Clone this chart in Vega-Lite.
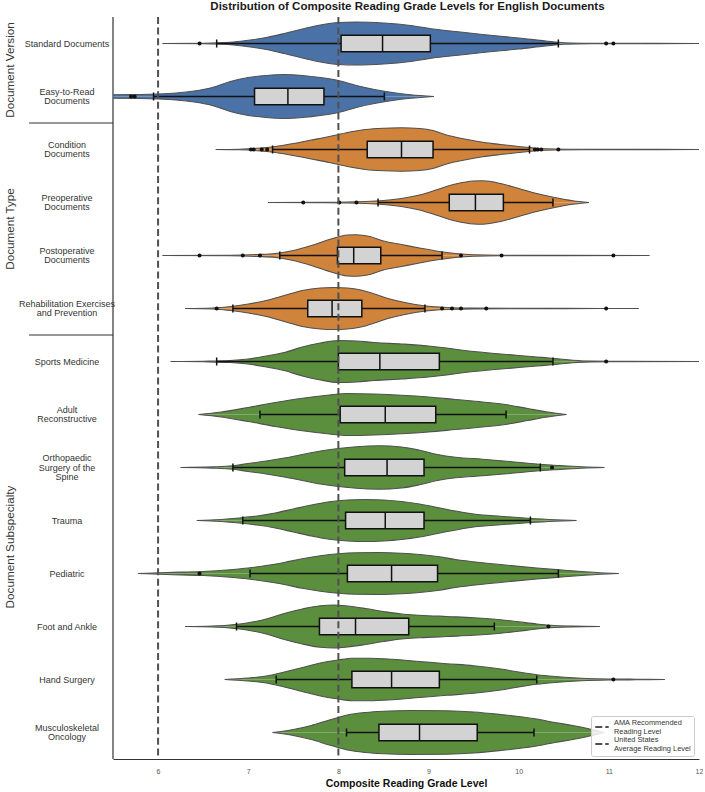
{
"$schema": "https://vega.github.io/schema/vega-lite/v6.json",
"padding": {"left": 0, "top": 0, "right": 0, "bottom": 0},
"bounds": "flush",
"title": {"text": "Distribution of Composite Reading Grade Levels for English Documents", "font": "Liberation Sans", "fontSize": 11.5, "fontWeight": "bold", "color": "#1a1a1a", "anchor": "middle", "dx": 56, "offset": 4},
"datasets": {
"labels": [
{"cat":"Standard Documents","label":"Standard Documents"},
{"cat":"Easy-to-Read Documents","label":"Easy-to-Read\nDocuments"},
{"cat":"Condition Documents","label":"Condition\nDocuments"},
{"cat":"Preoperative Documents","label":"Preoperative\nDocuments"},
{"cat":"Postoperative Documents","label":"Postoperative\nDocuments"},
{"cat":"Rehabilitation Exercises and Prevention","label":"Rehabilitation Exercises\nand Prevention"},
{"cat":"Sports Medicine","label":"Sports Medicine"},
{"cat":"Adult Reconstructive","label":"Adult\nReconstructive"},
{"cat":"Orthopaedic Surgery of the Spine","label":"Orthopaedic\nSurgery of the\nSpine"},
{"cat":"Trauma","label":"Trauma"},
{"cat":"Pediatric","label":"Pediatric"},
{"cat":"Foot and Ankle","label":"Foot and Ankle"},
{"cat":"Hand Surgery","label":"Hand Surgery"},
{"cat":"Musculoskeletal Oncology","label":"Musculoskeletal\nOncology"}
],
"groups": [
{"grp":"Document Version","at":"Standard Documents"},
{"grp":"Document Type","at":"Preoperative Documents"},
{"grp":"Document Subspecialty","at":"Trauma"}
],
"seps": [
{"at":"Easy-to-Read Documents"},
{"at":"Rehabilitation Exercises and Prevention"}
],
"spine": [{"side":"left"}],
"all": [
{"cat":"Standard Documents","kind":"b","q1":8.03,"med":8.49,"q3":9.02,"lo":6.65,"hi":10.44},
{"cat":"Standard Documents","kind":"o","x":6.46},
{"cat":"Standard Documents","kind":"o","x":10.97},
{"cat":"Standard Documents","kind":"o","x":11.05},
{"cat":"Standard Documents","grp":"Document Version","kind":"v","x":6.05,"d":0},
{"cat":"Standard Documents","grp":"Document Version","kind":"v","x":6.5,"d":0.3},
{"cat":"Standard Documents","grp":"Document Version","kind":"v","x":6.8,"d":1.2},
{"cat":"Standard Documents","grp":"Document Version","kind":"v","x":7.0,"d":3.2},
{"cat":"Standard Documents","grp":"Document Version","kind":"v","x":7.2,"d":6},
{"cat":"Standard Documents","grp":"Document Version","kind":"v","x":7.4,"d":10},
{"cat":"Standard Documents","grp":"Document Version","kind":"v","x":7.6,"d":14.5},
{"cat":"Standard Documents","grp":"Document Version","kind":"v","x":7.8,"d":18.5},
{"cat":"Standard Documents","grp":"Document Version","kind":"v","x":8.0,"d":21},
{"cat":"Standard Documents","grp":"Document Version","kind":"v","x":8.2,"d":21.5},
{"cat":"Standard Documents","grp":"Document Version","kind":"v","x":8.5,"d":20.5},
{"cat":"Standard Documents","grp":"Document Version","kind":"v","x":8.8,"d":18},
{"cat":"Standard Documents","grp":"Document Version","kind":"v","x":9.05,"d":14.5},
{"cat":"Standard Documents","grp":"Document Version","kind":"v","x":9.3,"d":12},
{"cat":"Standard Documents","grp":"Document Version","kind":"v","x":9.6,"d":9},
{"cat":"Standard Documents","grp":"Document Version","kind":"v","x":10.0,"d":5.5},
{"cat":"Standard Documents","grp":"Document Version","kind":"v","x":10.3,"d":2.5},
{"cat":"Standard Documents","grp":"Document Version","kind":"v","x":10.5,"d":0.8},
{"cat":"Standard Documents","grp":"Document Version","kind":"v","x":10.8,"d":0.3},
{"cat":"Standard Documents","grp":"Document Version","kind":"v","x":11.5,"d":0.15},
{"cat":"Standard Documents","grp":"Document Version","kind":"v","x":12.1,"d":0},

{"cat":"Easy-to-Read Documents","kind":"b","q1":7.07,"med":7.44,"q3":7.84,"lo":5.95,"hi":8.51},
{"cat":"Easy-to-Read Documents","kind":"o","x":5.70},
{"cat":"Easy-to-Read Documents","kind":"o","x":5.74},
{"cat":"Easy-to-Read Documents","grp":"Document Version","kind":"v","x":5.2,"d":1.5},
{"cat":"Easy-to-Read Documents","grp":"Document Version","kind":"v","x":5.5,"d":1.8},
{"cat":"Easy-to-Read Documents","grp":"Document Version","kind":"v","x":5.8,"d":2},
{"cat":"Easy-to-Read Documents","grp":"Document Version","kind":"v","x":6.0,"d":2.5},
{"cat":"Easy-to-Read Documents","grp":"Document Version","kind":"v","x":6.2,"d":3.5},
{"cat":"Easy-to-Read Documents","grp":"Document Version","kind":"v","x":6.4,"d":5.5},
{"cat":"Easy-to-Read Documents","grp":"Document Version","kind":"v","x":6.6,"d":9},
{"cat":"Easy-to-Read Documents","grp":"Document Version","kind":"v","x":6.8,"d":15},
{"cat":"Easy-to-Read Documents","grp":"Document Version","kind":"v","x":7.0,"d":19},
{"cat":"Easy-to-Read Documents","grp":"Document Version","kind":"v","x":7.2,"d":21},
{"cat":"Easy-to-Read Documents","grp":"Document Version","kind":"v","x":7.4,"d":22},
{"cat":"Easy-to-Read Documents","grp":"Document Version","kind":"v","x":7.6,"d":21},
{"cat":"Easy-to-Read Documents","grp":"Document Version","kind":"v","x":7.8,"d":19},
{"cat":"Easy-to-Read Documents","grp":"Document Version","kind":"v","x":8.0,"d":16},
{"cat":"Easy-to-Read Documents","grp":"Document Version","kind":"v","x":8.2,"d":11},
{"cat":"Easy-to-Read Documents","grp":"Document Version","kind":"v","x":8.4,"d":7},
{"cat":"Easy-to-Read Documents","grp":"Document Version","kind":"v","x":8.6,"d":4},
{"cat":"Easy-to-Read Documents","grp":"Document Version","kind":"v","x":8.8,"d":1.8},
{"cat":"Easy-to-Read Documents","grp":"Document Version","kind":"v","x":9.06,"d":0},

{"cat":"Condition Documents","kind":"b","q1":8.32,"med":8.70,"q3":9.05,"lo":7.27,"hi":10.12},
{"cat":"Condition Documents","kind":"o","x":7.03},
{"cat":"Condition Documents","kind":"o","x":7.06},
{"cat":"Condition Documents","kind":"o","x":7.15},
{"cat":"Condition Documents","kind":"o","x":7.21},
{"cat":"Condition Documents","kind":"o","x":10.18},
{"cat":"Condition Documents","kind":"o","x":10.21},
{"cat":"Condition Documents","kind":"o","x":10.25},
{"cat":"Condition Documents","kind":"o","x":10.44},
{"cat":"Condition Documents","grp":"Document Type","kind":"v","x":6.64,"d":0},
{"cat":"Condition Documents","grp":"Document Type","kind":"v","x":6.9,"d":0.3},
{"cat":"Condition Documents","grp":"Document Type","kind":"v","x":7.1,"d":1.2},
{"cat":"Condition Documents","grp":"Document Type","kind":"v","x":7.3,"d":3},
{"cat":"Condition Documents","grp":"Document Type","kind":"v","x":7.5,"d":6},
{"cat":"Condition Documents","grp":"Document Type","kind":"v","x":7.7,"d":9.5},
{"cat":"Condition Documents","grp":"Document Type","kind":"v","x":7.9,"d":13},
{"cat":"Condition Documents","grp":"Document Type","kind":"v","x":8.1,"d":17},
{"cat":"Condition Documents","grp":"Document Type","kind":"v","x":8.3,"d":20},
{"cat":"Condition Documents","grp":"Document Type","kind":"v","x":8.5,"d":21.3},
{"cat":"Condition Documents","grp":"Document Type","kind":"v","x":8.7,"d":21.7},
{"cat":"Condition Documents","grp":"Document Type","kind":"v","x":8.9,"d":21},
{"cat":"Condition Documents","grp":"Document Type","kind":"v","x":9.05,"d":19},
{"cat":"Condition Documents","grp":"Document Type","kind":"v","x":9.2,"d":14.5},
{"cat":"Condition Documents","grp":"Document Type","kind":"v","x":9.4,"d":10.5},
{"cat":"Condition Documents","grp":"Document Type","kind":"v","x":9.6,"d":7.3},
{"cat":"Condition Documents","grp":"Document Type","kind":"v","x":9.8,"d":5},
{"cat":"Condition Documents","grp":"Document Type","kind":"v","x":10.0,"d":3},
{"cat":"Condition Documents","grp":"Document Type","kind":"v","x":10.2,"d":1.3},
{"cat":"Condition Documents","grp":"Document Type","kind":"v","x":10.4,"d":0.5},
{"cat":"Condition Documents","grp":"Document Type","kind":"v","x":10.7,"d":0.2},
{"cat":"Condition Documents","grp":"Document Type","kind":"v","x":11.5,"d":0.15},
{"cat":"Condition Documents","grp":"Document Type","kind":"v","x":12.1,"d":0},

{"cat":"Preoperative Documents","kind":"b","q1":9.23,"med":9.52,"q3":9.83,"lo":8.44,"hi":10.38},
{"cat":"Preoperative Documents","kind":"o","x":7.61},
{"cat":"Preoperative Documents","kind":"o","x":8.01},
{"cat":"Preoperative Documents","kind":"o","x":8.20},
{"cat":"Preoperative Documents","grp":"Document Type","kind":"v","x":7.22,"d":0},
{"cat":"Preoperative Documents","grp":"Document Type","kind":"v","x":7.8,"d":0.2},
{"cat":"Preoperative Documents","grp":"Document Type","kind":"v","x":8.1,"d":0.5},
{"cat":"Preoperative Documents","grp":"Document Type","kind":"v","x":8.3,"d":1},
{"cat":"Preoperative Documents","grp":"Document Type","kind":"v","x":8.5,"d":2},
{"cat":"Preoperative Documents","grp":"Document Type","kind":"v","x":8.7,"d":4},
{"cat":"Preoperative Documents","grp":"Document Type","kind":"v","x":8.9,"d":7.5},
{"cat":"Preoperative Documents","grp":"Document Type","kind":"v","x":9.1,"d":13},
{"cat":"Preoperative Documents","grp":"Document Type","kind":"v","x":9.3,"d":18.5},
{"cat":"Preoperative Documents","grp":"Document Type","kind":"v","x":9.5,"d":21.5},
{"cat":"Preoperative Documents","grp":"Document Type","kind":"v","x":9.6,"d":21.7},
{"cat":"Preoperative Documents","grp":"Document Type","kind":"v","x":9.8,"d":19},
{"cat":"Preoperative Documents","grp":"Document Type","kind":"v","x":10.0,"d":14},
{"cat":"Preoperative Documents","grp":"Document Type","kind":"v","x":10.2,"d":9},
{"cat":"Preoperative Documents","grp":"Document Type","kind":"v","x":10.4,"d":5},
{"cat":"Preoperative Documents","grp":"Document Type","kind":"v","x":10.6,"d":1.8},
{"cat":"Preoperative Documents","grp":"Document Type","kind":"v","x":10.78,"d":0},

{"cat":"Postoperative Documents","kind":"b","q1":7.99,"med":8.17,"q3":8.47,"lo":7.35,"hi":9.15},
{"cat":"Postoperative Documents","kind":"o","x":6.46},
{"cat":"Postoperative Documents","kind":"o","x":6.94},
{"cat":"Postoperative Documents","kind":"o","x":7.13},
{"cat":"Postoperative Documents","kind":"o","x":9.36},
{"cat":"Postoperative Documents","kind":"o","x":9.81},
{"cat":"Postoperative Documents","kind":"o","x":11.05},
{"cat":"Postoperative Documents","grp":"Document Type","kind":"v","x":6.05,"d":0},
{"cat":"Postoperative Documents","grp":"Document Type","kind":"v","x":6.8,"d":0.3},
{"cat":"Postoperative Documents","grp":"Document Type","kind":"v","x":7.1,"d":1},
{"cat":"Postoperative Documents","grp":"Document Type","kind":"v","x":7.3,"d":2},
{"cat":"Postoperative Documents","grp":"Document Type","kind":"v","x":7.5,"d":5},
{"cat":"Postoperative Documents","grp":"Document Type","kind":"v","x":7.7,"d":10},
{"cat":"Postoperative Documents","grp":"Document Type","kind":"v","x":7.9,"d":16},
{"cat":"Postoperative Documents","grp":"Document Type","kind":"v","x":8.1,"d":20.5},
{"cat":"Postoperative Documents","grp":"Document Type","kind":"v","x":8.2,"d":20.8},
{"cat":"Postoperative Documents","grp":"Document Type","kind":"v","x":8.35,"d":19},
{"cat":"Postoperative Documents","grp":"Document Type","kind":"v","x":8.5,"d":14.5},
{"cat":"Postoperative Documents","grp":"Document Type","kind":"v","x":8.7,"d":11},
{"cat":"Postoperative Documents","grp":"Document Type","kind":"v","x":8.9,"d":7.5},
{"cat":"Postoperative Documents","grp":"Document Type","kind":"v","x":9.1,"d":4.3},
{"cat":"Postoperative Documents","grp":"Document Type","kind":"v","x":9.3,"d":2},
{"cat":"Postoperative Documents","grp":"Document Type","kind":"v","x":9.5,"d":0.8},
{"cat":"Postoperative Documents","grp":"Document Type","kind":"v","x":9.8,"d":0.3},
{"cat":"Postoperative Documents","grp":"Document Type","kind":"v","x":11.45,"d":0},

{"cat":"Rehabilitation Exercises and Prevention","kind":"b","q1":7.66,"med":7.93,"q3":8.26,"lo":6.83,"hi":8.96},
{"cat":"Rehabilitation Exercises and Prevention","kind":"o","x":6.65},
{"cat":"Rehabilitation Exercises and Prevention","kind":"o","x":9.15},
{"cat":"Rehabilitation Exercises and Prevention","kind":"o","x":9.26},
{"cat":"Rehabilitation Exercises and Prevention","kind":"o","x":9.36},
{"cat":"Rehabilitation Exercises and Prevention","kind":"o","x":9.64},
{"cat":"Rehabilitation Exercises and Prevention","kind":"o","x":10.97},
{"cat":"Rehabilitation Exercises and Prevention","grp":"Document Type","kind":"v","x":6.3,"d":0},
{"cat":"Rehabilitation Exercises and Prevention","grp":"Document Type","kind":"v","x":6.6,"d":0.5},
{"cat":"Rehabilitation Exercises and Prevention","grp":"Document Type","kind":"v","x":6.83,"d":2.3},
{"cat":"Rehabilitation Exercises and Prevention","grp":"Document Type","kind":"v","x":7.0,"d":4.5},
{"cat":"Rehabilitation Exercises and Prevention","grp":"Document Type","kind":"v","x":7.2,"d":8},
{"cat":"Rehabilitation Exercises and Prevention","grp":"Document Type","kind":"v","x":7.4,"d":13},
{"cat":"Rehabilitation Exercises and Prevention","grp":"Document Type","kind":"v","x":7.6,"d":18},
{"cat":"Rehabilitation Exercises and Prevention","grp":"Document Type","kind":"v","x":7.8,"d":20.5},
{"cat":"Rehabilitation Exercises and Prevention","grp":"Document Type","kind":"v","x":7.95,"d":21},
{"cat":"Rehabilitation Exercises and Prevention","grp":"Document Type","kind":"v","x":8.1,"d":20.5},
{"cat":"Rehabilitation Exercises and Prevention","grp":"Document Type","kind":"v","x":8.25,"d":18.5},
{"cat":"Rehabilitation Exercises and Prevention","grp":"Document Type","kind":"v","x":8.4,"d":14.5},
{"cat":"Rehabilitation Exercises and Prevention","grp":"Document Type","kind":"v","x":8.55,"d":10},
{"cat":"Rehabilitation Exercises and Prevention","grp":"Document Type","kind":"v","x":8.75,"d":5.7},
{"cat":"Rehabilitation Exercises and Prevention","grp":"Document Type","kind":"v","x":8.95,"d":2.7},
{"cat":"Rehabilitation Exercises and Prevention","grp":"Document Type","kind":"v","x":9.2,"d":1},
{"cat":"Rehabilitation Exercises and Prevention","grp":"Document Type","kind":"v","x":9.5,"d":0.4},
{"cat":"Rehabilitation Exercises and Prevention","grp":"Document Type","kind":"v","x":10.5,"d":0.15},
{"cat":"Rehabilitation Exercises and Prevention","grp":"Document Type","kind":"v","x":11.33,"d":0},

{"cat":"Sports Medicine","kind":"b","q1":8.00,"med":8.46,"q3":9.12,"lo":6.65,"hi":10.38},
{"cat":"Sports Medicine","kind":"o","x":10.97},
{"cat":"Sports Medicine","grp":"Document Subspecialty","kind":"v","x":6.14,"d":0},
{"cat":"Sports Medicine","grp":"Document Subspecialty","kind":"v","x":6.5,"d":0.3},
{"cat":"Sports Medicine","grp":"Document Subspecialty","kind":"v","x":6.8,"d":1},
{"cat":"Sports Medicine","grp":"Document Subspecialty","kind":"v","x":7.0,"d":2.5},
{"cat":"Sports Medicine","grp":"Document Subspecialty","kind":"v","x":7.2,"d":5.5},
{"cat":"Sports Medicine","grp":"Document Subspecialty","kind":"v","x":7.4,"d":9},
{"cat":"Sports Medicine","grp":"Document Subspecialty","kind":"v","x":7.6,"d":14.5},
{"cat":"Sports Medicine","grp":"Document Subspecialty","kind":"v","x":7.8,"d":18.5},
{"cat":"Sports Medicine","grp":"Document Subspecialty","kind":"v","x":8.0,"d":21},
{"cat":"Sports Medicine","grp":"Document Subspecialty","kind":"v","x":8.2,"d":20.5},
{"cat":"Sports Medicine","grp":"Document Subspecialty","kind":"v","x":8.4,"d":19},
{"cat":"Sports Medicine","grp":"Document Subspecialty","kind":"v","x":8.7,"d":17.5},
{"cat":"Sports Medicine","grp":"Document Subspecialty","kind":"v","x":9.0,"d":15.5},
{"cat":"Sports Medicine","grp":"Document Subspecialty","kind":"v","x":9.2,"d":13.5},
{"cat":"Sports Medicine","grp":"Document Subspecialty","kind":"v","x":9.4,"d":11},
{"cat":"Sports Medicine","grp":"Document Subspecialty","kind":"v","x":9.7,"d":8.3},
{"cat":"Sports Medicine","grp":"Document Subspecialty","kind":"v","x":10.0,"d":6},
{"cat":"Sports Medicine","grp":"Document Subspecialty","kind":"v","x":10.2,"d":4.5},
{"cat":"Sports Medicine","grp":"Document Subspecialty","kind":"v","x":10.4,"d":3},
{"cat":"Sports Medicine","grp":"Document Subspecialty","kind":"v","x":10.6,"d":1.3},
{"cat":"Sports Medicine","grp":"Document Subspecialty","kind":"v","x":10.8,"d":0.4},
{"cat":"Sports Medicine","grp":"Document Subspecialty","kind":"v","x":11.2,"d":0.2},
{"cat":"Sports Medicine","grp":"Document Subspecialty","kind":"v","x":12.1,"d":0},

{"cat":"Adult Reconstructive","kind":"b","q1":8.02,"med":8.52,"q3":9.08,"lo":7.13,"hi":9.86},
{"cat":"Adult Reconstructive","grp":"Document Subspecialty","kind":"v","x":6.45,"d":0},
{"cat":"Adult Reconstructive","grp":"Document Subspecialty","kind":"v","x":6.7,"d":2.5},
{"cat":"Adult Reconstructive","grp":"Document Subspecialty","kind":"v","x":7.0,"d":7},
{"cat":"Adult Reconstructive","grp":"Document Subspecialty","kind":"v","x":7.3,"d":12},
{"cat":"Adult Reconstructive","grp":"Document Subspecialty","kind":"v","x":7.6,"d":16.3},
{"cat":"Adult Reconstructive","grp":"Document Subspecialty","kind":"v","x":7.9,"d":19.5},
{"cat":"Adult Reconstructive","grp":"Document Subspecialty","kind":"v","x":8.1,"d":21},
{"cat":"Adult Reconstructive","grp":"Document Subspecialty","kind":"v","x":8.4,"d":20.5},
{"cat":"Adult Reconstructive","grp":"Document Subspecialty","kind":"v","x":8.7,"d":19.3},
{"cat":"Adult Reconstructive","grp":"Document Subspecialty","kind":"v","x":9.0,"d":17.5},
{"cat":"Adult Reconstructive","grp":"Document Subspecialty","kind":"v","x":9.3,"d":15},
{"cat":"Adult Reconstructive","grp":"Document Subspecialty","kind":"v","x":9.6,"d":12.5},
{"cat":"Adult Reconstructive","grp":"Document Subspecialty","kind":"v","x":9.85,"d":10},
{"cat":"Adult Reconstructive","grp":"Document Subspecialty","kind":"v","x":10.1,"d":6},
{"cat":"Adult Reconstructive","grp":"Document Subspecialty","kind":"v","x":10.3,"d":2.8},
{"cat":"Adult Reconstructive","grp":"Document Subspecialty","kind":"v","x":10.53,"d":0},

{"cat":"Orthopaedic Surgery of the Spine","kind":"b","q1":8.07,"med":8.54,"q3":8.95,"lo":6.83,"hi":10.24},
{"cat":"Orthopaedic Surgery of the Spine","kind":"o","x":10.37},
{"cat":"Orthopaedic Surgery of the Spine","grp":"Document Subspecialty","kind":"v","x":6.25,"d":0},
{"cat":"Orthopaedic Surgery of the Spine","grp":"Document Subspecialty","kind":"v","x":6.6,"d":0.6},
{"cat":"Orthopaedic Surgery of the Spine","grp":"Document Subspecialty","kind":"v","x":6.83,"d":1.7},
{"cat":"Orthopaedic Surgery of the Spine","grp":"Document Subspecialty","kind":"v","x":7.0,"d":4},
{"cat":"Orthopaedic Surgery of the Spine","grp":"Document Subspecialty","kind":"v","x":7.2,"d":6.5},
{"cat":"Orthopaedic Surgery of the Spine","grp":"Document Subspecialty","kind":"v","x":7.4,"d":9.5},
{"cat":"Orthopaedic Surgery of the Spine","grp":"Document Subspecialty","kind":"v","x":7.6,"d":13},
{"cat":"Orthopaedic Surgery of the Spine","grp":"Document Subspecialty","kind":"v","x":7.8,"d":16.5},
{"cat":"Orthopaedic Surgery of the Spine","grp":"Document Subspecialty","kind":"v","x":8.0,"d":19},
{"cat":"Orthopaedic Surgery of the Spine","grp":"Document Subspecialty","kind":"v","x":8.2,"d":20.8},
{"cat":"Orthopaedic Surgery of the Spine","grp":"Document Subspecialty","kind":"v","x":8.45,"d":21.7},
{"cat":"Orthopaedic Surgery of the Spine","grp":"Document Subspecialty","kind":"v","x":8.7,"d":20.5},
{"cat":"Orthopaedic Surgery of the Spine","grp":"Document Subspecialty","kind":"v","x":8.9,"d":17.3},
{"cat":"Orthopaedic Surgery of the Spine","grp":"Document Subspecialty","kind":"v","x":9.1,"d":13},
{"cat":"Orthopaedic Surgery of the Spine","grp":"Document Subspecialty","kind":"v","x":9.3,"d":10.3},
{"cat":"Orthopaedic Surgery of the Spine","grp":"Document Subspecialty","kind":"v","x":9.6,"d":8.3},
{"cat":"Orthopaedic Surgery of the Spine","grp":"Document Subspecialty","kind":"v","x":9.9,"d":6},
{"cat":"Orthopaedic Surgery of the Spine","grp":"Document Subspecialty","kind":"v","x":10.2,"d":3.5},
{"cat":"Orthopaedic Surgery of the Spine","grp":"Document Subspecialty","kind":"v","x":10.4,"d":2.3},
{"cat":"Orthopaedic Surgery of the Spine","grp":"Document Subspecialty","kind":"v","x":10.7,"d":0.7},
{"cat":"Orthopaedic Surgery of the Spine","grp":"Document Subspecialty","kind":"v","x":10.95,"d":0},

{"cat":"Trauma","kind":"b","q1":8.08,"med":8.52,"q3":8.95,"lo":6.94,"hi":10.13},
{"cat":"Trauma","grp":"Document Subspecialty","kind":"v","x":6.43,"d":0},
{"cat":"Trauma","grp":"Document Subspecialty","kind":"v","x":6.7,"d":1},
{"cat":"Trauma","grp":"Document Subspecialty","kind":"v","x":6.9,"d":2.5},
{"cat":"Trauma","grp":"Document Subspecialty","kind":"v","x":7.1,"d":4.5},
{"cat":"Trauma","grp":"Document Subspecialty","kind":"v","x":7.3,"d":7.5},
{"cat":"Trauma","grp":"Document Subspecialty","kind":"v","x":7.5,"d":11.5},
{"cat":"Trauma","grp":"Document Subspecialty","kind":"v","x":7.7,"d":15.5},
{"cat":"Trauma","grp":"Document Subspecialty","kind":"v","x":7.9,"d":18.8},
{"cat":"Trauma","grp":"Document Subspecialty","kind":"v","x":8.1,"d":20.5},
{"cat":"Trauma","grp":"Document Subspecialty","kind":"v","x":8.3,"d":21},
{"cat":"Trauma","grp":"Document Subspecialty","kind":"v","x":8.5,"d":20.5},
{"cat":"Trauma","grp":"Document Subspecialty","kind":"v","x":8.7,"d":19},
{"cat":"Trauma","grp":"Document Subspecialty","kind":"v","x":8.9,"d":16.5},
{"cat":"Trauma","grp":"Document Subspecialty","kind":"v","x":9.1,"d":13},
{"cat":"Trauma","grp":"Document Subspecialty","kind":"v","x":9.3,"d":9.5},
{"cat":"Trauma","grp":"Document Subspecialty","kind":"v","x":9.5,"d":6.5},
{"cat":"Trauma","grp":"Document Subspecialty","kind":"v","x":9.8,"d":4.2},
{"cat":"Trauma","grp":"Document Subspecialty","kind":"v","x":10.1,"d":2.3},
{"cat":"Trauma","grp":"Document Subspecialty","kind":"v","x":10.4,"d":0.8},
{"cat":"Trauma","grp":"Document Subspecialty","kind":"v","x":10.64,"d":0},

{"cat":"Pediatric","kind":"b","q1":8.10,"med":8.59,"q3":9.10,"lo":7.02,"hi":10.44},
{"cat":"Pediatric","kind":"o","x":6.46},
{"cat":"Pediatric","grp":"Document Subspecialty","kind":"v","x":5.78,"d":0},
{"cat":"Pediatric","grp":"Document Subspecialty","kind":"v","x":6.1,"d":1},
{"cat":"Pediatric","grp":"Document Subspecialty","kind":"v","x":6.5,"d":2},
{"cat":"Pediatric","grp":"Document Subspecialty","kind":"v","x":6.8,"d":3.8},
{"cat":"Pediatric","grp":"Document Subspecialty","kind":"v","x":7.0,"d":5.5},
{"cat":"Pediatric","grp":"Document Subspecialty","kind":"v","x":7.2,"d":8},
{"cat":"Pediatric","grp":"Document Subspecialty","kind":"v","x":7.4,"d":11},
{"cat":"Pediatric","grp":"Document Subspecialty","kind":"v","x":7.6,"d":14.8},
{"cat":"Pediatric","grp":"Document Subspecialty","kind":"v","x":7.8,"d":17.7},
{"cat":"Pediatric","grp":"Document Subspecialty","kind":"v","x":8.0,"d":19.8},
{"cat":"Pediatric","grp":"Document Subspecialty","kind":"v","x":8.2,"d":20.8},
{"cat":"Pediatric","grp":"Document Subspecialty","kind":"v","x":8.45,"d":21},
{"cat":"Pediatric","grp":"Document Subspecialty","kind":"v","x":8.7,"d":20.3},
{"cat":"Pediatric","grp":"Document Subspecialty","kind":"v","x":8.9,"d":19},
{"cat":"Pediatric","grp":"Document Subspecialty","kind":"v","x":9.1,"d":17},
{"cat":"Pediatric","grp":"Document Subspecialty","kind":"v","x":9.3,"d":14},
{"cat":"Pediatric","grp":"Document Subspecialty","kind":"v","x":9.6,"d":10.7},
{"cat":"Pediatric","grp":"Document Subspecialty","kind":"v","x":9.9,"d":8},
{"cat":"Pediatric","grp":"Document Subspecialty","kind":"v","x":10.2,"d":5.5},
{"cat":"Pediatric","grp":"Document Subspecialty","kind":"v","x":10.45,"d":3.7},
{"cat":"Pediatric","grp":"Document Subspecialty","kind":"v","x":10.7,"d":2},
{"cat":"Pediatric","grp":"Document Subspecialty","kind":"v","x":10.9,"d":0.8},
{"cat":"Pediatric","grp":"Document Subspecialty","kind":"v","x":11.11,"d":0},

{"cat":"Foot and Ankle","kind":"b","q1":7.79,"med":8.19,"q3":8.78,"lo":6.87,"hi":9.73},
{"cat":"Foot and Ankle","kind":"o","x":10.33},
{"cat":"Foot and Ankle","grp":"Document Subspecialty","kind":"v","x":6.3,"d":0},
{"cat":"Foot and Ankle","grp":"Document Subspecialty","kind":"v","x":6.6,"d":0.5},
{"cat":"Foot and Ankle","grp":"Document Subspecialty","kind":"v","x":6.85,"d":2},
{"cat":"Foot and Ankle","grp":"Document Subspecialty","kind":"v","x":7.0,"d":3.8},
{"cat":"Foot and Ankle","grp":"Document Subspecialty","kind":"v","x":7.2,"d":7.5},
{"cat":"Foot and Ankle","grp":"Document Subspecialty","kind":"v","x":7.4,"d":13},
{"cat":"Foot and Ankle","grp":"Document Subspecialty","kind":"v","x":7.6,"d":17.5},
{"cat":"Foot and Ankle","grp":"Document Subspecialty","kind":"v","x":7.8,"d":20.8},
{"cat":"Foot and Ankle","grp":"Document Subspecialty","kind":"v","x":7.95,"d":21.5},
{"cat":"Foot and Ankle","grp":"Document Subspecialty","kind":"v","x":8.1,"d":20.5},
{"cat":"Foot and Ankle","grp":"Document Subspecialty","kind":"v","x":8.3,"d":18},
{"cat":"Foot and Ankle","grp":"Document Subspecialty","kind":"v","x":8.5,"d":15},
{"cat":"Foot and Ankle","grp":"Document Subspecialty","kind":"v","x":8.7,"d":12.5},
{"cat":"Foot and Ankle","grp":"Document Subspecialty","kind":"v","x":8.9,"d":11.3},
{"cat":"Foot and Ankle","grp":"Document Subspecialty","kind":"v","x":9.2,"d":10},
{"cat":"Foot and Ankle","grp":"Document Subspecialty","kind":"v","x":9.5,"d":8.8},
{"cat":"Foot and Ankle","grp":"Document Subspecialty","kind":"v","x":9.8,"d":6.8},
{"cat":"Foot and Ankle","grp":"Document Subspecialty","kind":"v","x":10.0,"d":4.7},
{"cat":"Foot and Ankle","grp":"Document Subspecialty","kind":"v","x":10.2,"d":2.5},
{"cat":"Foot and Ankle","grp":"Document Subspecialty","kind":"v","x":10.4,"d":1},
{"cat":"Foot and Ankle","grp":"Document Subspecialty","kind":"v","x":10.6,"d":0.4},
{"cat":"Foot and Ankle","grp":"Document Subspecialty","kind":"v","x":10.9,"d":0},

{"cat":"Hand Surgery","kind":"b","q1":8.15,"med":8.59,"q3":9.12,"lo":7.31,"hi":10.20},
{"cat":"Hand Surgery","kind":"o","x":11.05},
{"cat":"Hand Surgery","grp":"Document Subspecialty","kind":"v","x":6.74,"d":0},
{"cat":"Hand Surgery","grp":"Document Subspecialty","kind":"v","x":7.0,"d":1.5},
{"cat":"Hand Surgery","grp":"Document Subspecialty","kind":"v","x":7.2,"d":3.5},
{"cat":"Hand Surgery","grp":"Document Subspecialty","kind":"v","x":7.4,"d":7.5},
{"cat":"Hand Surgery","grp":"Document Subspecialty","kind":"v","x":7.6,"d":12},
{"cat":"Hand Surgery","grp":"Document Subspecialty","kind":"v","x":7.8,"d":16.5},
{"cat":"Hand Surgery","grp":"Document Subspecialty","kind":"v","x":8.0,"d":19.5},
{"cat":"Hand Surgery","grp":"Document Subspecialty","kind":"v","x":8.15,"d":21.2},
{"cat":"Hand Surgery","grp":"Document Subspecialty","kind":"v","x":8.35,"d":21.3},
{"cat":"Hand Surgery","grp":"Document Subspecialty","kind":"v","x":8.6,"d":20.2},
{"cat":"Hand Surgery","grp":"Document Subspecialty","kind":"v","x":8.9,"d":18},
{"cat":"Hand Surgery","grp":"Document Subspecialty","kind":"v","x":9.2,"d":15.8},
{"cat":"Hand Surgery","grp":"Document Subspecialty","kind":"v","x":9.5,"d":13.8},
{"cat":"Hand Surgery","grp":"Document Subspecialty","kind":"v","x":9.8,"d":10.5},
{"cat":"Hand Surgery","grp":"Document Subspecialty","kind":"v","x":10.0,"d":7.5},
{"cat":"Hand Surgery","grp":"Document Subspecialty","kind":"v","x":10.2,"d":4.8},
{"cat":"Hand Surgery","grp":"Document Subspecialty","kind":"v","x":10.4,"d":3},
{"cat":"Hand Surgery","grp":"Document Subspecialty","kind":"v","x":10.7,"d":1.2},
{"cat":"Hand Surgery","grp":"Document Subspecialty","kind":"v","x":11.0,"d":0.5},
{"cat":"Hand Surgery","grp":"Document Subspecialty","kind":"v","x":11.3,"d":0.3},
{"cat":"Hand Surgery","grp":"Document Subspecialty","kind":"v","x":11.62,"d":0},

{"cat":"Musculoskeletal Oncology","kind":"b","q1":8.45,"med":8.90,"q3":9.54,"lo":8.09,"hi":10.17},
{"cat":"Musculoskeletal Oncology","grp":"Document Subspecialty","kind":"v","x":7.27,"d":0},
{"cat":"Musculoskeletal Oncology","grp":"Document Subspecialty","kind":"v","x":7.5,"d":3},
{"cat":"Musculoskeletal Oncology","grp":"Document Subspecialty","kind":"v","x":7.7,"d":7},
{"cat":"Musculoskeletal Oncology","grp":"Document Subspecialty","kind":"v","x":7.9,"d":12.5},
{"cat":"Musculoskeletal Oncology","grp":"Document Subspecialty","kind":"v","x":8.1,"d":17.5},
{"cat":"Musculoskeletal Oncology","grp":"Document Subspecialty","kind":"v","x":8.3,"d":20},
{"cat":"Musculoskeletal Oncology","grp":"Document Subspecialty","kind":"v","x":8.5,"d":21.3},
{"cat":"Musculoskeletal Oncology","grp":"Document Subspecialty","kind":"v","x":8.8,"d":22},
{"cat":"Musculoskeletal Oncology","grp":"Document Subspecialty","kind":"v","x":9.2,"d":21.7},
{"cat":"Musculoskeletal Oncology","grp":"Document Subspecialty","kind":"v","x":9.5,"d":20.5},
{"cat":"Musculoskeletal Oncology","grp":"Document Subspecialty","kind":"v","x":9.8,"d":18},
{"cat":"Musculoskeletal Oncology","grp":"Document Subspecialty","kind":"v","x":10.0,"d":16},
{"cat":"Musculoskeletal Oncology","grp":"Document Subspecialty","kind":"v","x":10.2,"d":13.5},
{"cat":"Musculoskeletal Oncology","grp":"Document Subspecialty","kind":"v","x":10.4,"d":10},
{"cat":"Musculoskeletal Oncology","grp":"Document Subspecialty","kind":"v","x":10.6,"d":7},
{"cat":"Musculoskeletal Oncology","grp":"Document Subspecialty","kind":"v","x":10.8,"d":3.3},
{"cat":"Musculoskeletal Oncology","grp":"Document Subspecialty","kind":"v","x":10.95,"d":0}
]
},
"spacing": 0,
"hconcat": [
{
 "width": 113, "height": 742,
 "encoding": {
  "y": {"field": "cat", "type": "nominal", "scale": {"type": "band", "domain": ["Standard Documents","Easy-to-Read Documents","Condition Documents","Preoperative Documents","Postoperative Documents","Rehabilitation Exercises and Prevention","Sports Medicine","Adult Reconstructive","Orthopaedic Surgery of the Spine","Trauma","Pediatric","Foot and Ankle","Hand Surgery","Musculoskeletal Oncology"], "paddingInner": 0, "paddingOuter": 0}, "axis": null}
 },
 "layer": [
  {"data": {"name": "labels"},
   "transform": [{"filter": "indexof(datum.label, '\\n') < 0"}],
   "mark": {"type": "text", "fontSize": 9, "color": "#333333", "align": "center", "baseline": "middle"},
   "encoding": {
    "x": {"datum": 0.593, "type": "quantitative", "scale": {"domain": [0, 1], "nice": false, "zero": false}, "axis": null},
    "text": {"field": "label", "type": "nominal"}
   }},
  {"data": {"name": "labels"},
   "transform": [{"filter": "indexof(datum.label, '\\n') >= 0 && indexof(datum.label, '\\n') == lastindexof(datum.label, '\\n')"}],
   "mark": {"type": "text", "lineBreak": "\n", "fontSize": 9, "color": "#333333", "align": "center", "baseline": "middle", "lineHeight": 9.5, "dy": -4.75},
   "encoding": {
    "x": {"datum": 0.593, "type": "quantitative"},
    "text": {"field": "label", "type": "nominal"}
   }},
  {"data": {"name": "labels"},
   "transform": [{"filter": "indexof(datum.label, '\\n') >= 0 && indexof(datum.label, '\\n') != lastindexof(datum.label, '\\n')"}],
   "mark": {"type": "text", "lineBreak": "\n", "fontSize": 9, "color": "#333333", "align": "center", "baseline": "middle", "lineHeight": 9.5, "dy": -9.5},
   "encoding": {
    "x": {"datum": 0.593, "type": "quantitative"},
    "text": {"field": "label", "type": "nominal"}
   }},
  {"data": {"name": "groups"},
   "mark": {"type": "text", "angle": 270, "fontSize": 11.7, "color": "#333333", "align": "center", "baseline": "middle"},
   "encoding": {
    "y": {"field": "at", "type": "nominal", "bandPosition": 1},
    "x": {"datum": 0.088, "type": "quantitative"},
    "text": {"field": "grp", "type": "nominal"}
   }},
  {"data": {"name": "seps"},
   "mark": {"type": "rule", "color": "#333333", "strokeWidth": 1.1},
   "encoding": {
    "y": {"field": "at", "type": "nominal", "bandPosition": 1},
    "x": {"datum": 0.257, "type": "quantitative"},
    "x2": {"datum": 1}
   }},
  {"data": {"name": "spine"},
   "mark": {"type": "rule", "color": "#333333", "strokeWidth": 1.2},
   "encoding": {
    "y": null,
    "x": {"datum": 1, "type": "quantitative"}
   }}
 ]
},
{
 "data": {"name": "all"},
 "bounds": "flush",
 "facet": {"row": {"field": "cat", "type": "nominal", "sort": ["Standard Documents","Easy-to-Read Documents","Condition Documents","Preoperative Documents","Postoperative Documents","Rehabilitation Exercises and Prevention","Sports Medicine","Adult Reconstructive","Orthopaedic Surgery of the Spine","Trauma","Pediatric","Foot and Ankle","Hand Surgery","Musculoskeletal Oncology"], "header": {"labels": false, "title": null, "labelPadding": 0, "titlePadding": 0}}},
 "spacing": 0,
 "resolve": {"scale": {"y": "independent"}},
 "spec": {
  "width": 586, "height": 53,
  "resolve": {"scale": {"y": "independent"}},
  "layer": [
   {"transform": [{"filter": "datum.kind == 'v'"}],
    "mark": {"type": "area", "interpolate": "monotone", "clip": true},
    "encoding": {
     "x": {"field": "x", "type": "quantitative", "scale": {"domain": [5.5, 12], "nice": false, "zero": false}, "axis": {"values": [6,7,8,9,10,11,12], "format": "d", "title": "Composite Reading Grade Level"}},
     "y": {"field": "d", "type": "quantitative", "scale": {"domain": [-26.5, 26.5], "nice": false, "zero": false}, "axis": null},
     "y2": {"datum": 0},
     "fill": {"field": "grp", "type": "nominal", "scale": {"domain": ["Document Version","Document Type","Document Subspecialty"], "range": ["#4a72a6","#d0833a","#5b8e3d"]}, "legend": null}
    }},
   {"transform": [{"filter": "datum.kind == 'v'"}],
    "mark": {"type": "area", "interpolate": "monotone", "clip": true},
    "encoding": {
     "x": {"field": "x", "type": "quantitative"},
     "y": {"field": "d", "type": "quantitative", "scale": {"domain": [-26.5, 26.5], "nice": false, "zero": false, "reverse": true}, "axis": null},
     "y2": {"datum": 0},
     "fill": {"field": "grp", "type": "nominal", "legend": null}
    }},
   {"transform": [{"filter": "datum.kind == 'v'"}],
    "mark": {"type": "line", "interpolate": "monotone", "clip": true, "color": "#505050", "strokeWidth": 1.1},
    "encoding": {
     "x": {"field": "x", "type": "quantitative"},
     "y": {"field": "d", "type": "quantitative", "scale": {"domain": [-26.5, 26.5], "nice": false, "zero": false}, "axis": null}
    }},
   {"transform": [{"filter": "datum.kind == 'v'"}],
    "mark": {"type": "line", "interpolate": "monotone", "clip": true, "color": "#505050", "strokeWidth": 1.1},
    "encoding": {
     "x": {"field": "x", "type": "quantitative"},
     "y": {"field": "d", "type": "quantitative", "scale": {"domain": [-26.5, 26.5], "nice": false, "zero": false, "reverse": true}, "axis": null}
    }},
   {"transform": [{"filter": "datum.kind == 'b'"}],
    "mark": {"type": "rule", "color": "#111111", "strokeWidth": 1.5, "clip": true},
    "encoding": {
     "x": {"field": "lo", "type": "quantitative"},
     "x2": {"field": "hi"},
     "y": {"datum": 0, "type": "quantitative", "scale": {"domain": [-26.5, 26.5], "nice": false, "zero": false}, "axis": null}
    }},
   {"transform": [{"filter": "datum.kind == 'b'"}],
    "mark": {"type": "rule", "color": "#111111", "strokeWidth": 1.5, "clip": true},
    "encoding": {
     "x": {"field": "lo", "type": "quantitative"},
     "y": {"datum": -4, "type": "quantitative", "scale": {"domain": [-26.5, 26.5], "nice": false, "zero": false}, "axis": null},
     "y2": {"datum": 4}
    }},
   {"transform": [{"filter": "datum.kind == 'b'"}],
    "mark": {"type": "rule", "color": "#111111", "strokeWidth": 1.5, "clip": true},
    "encoding": {
     "x": {"field": "hi", "type": "quantitative"},
     "y": {"datum": -4, "type": "quantitative", "scale": {"domain": [-26.5, 26.5], "nice": false, "zero": false}, "axis": null},
     "y2": {"datum": 4}
    }},
   {"transform": [{"filter": "datum.kind == 'b'"}],
    "mark": {"type": "rect", "fill": "#d3d3d3", "stroke": "#111111", "strokeWidth": 1.5},
    "encoding": {
     "x": {"field": "q1", "type": "quantitative"},
     "x2": {"field": "q3"},
     "y": {"datum": -8.2, "type": "quantitative", "scale": {"domain": [-26.5, 26.5], "nice": false, "zero": false}, "axis": null},
     "y2": {"datum": 8.2}
    }},
   {"transform": [{"filter": "datum.kind == 'b'"}],
    "mark": {"type": "rule", "color": "#111111", "strokeWidth": 1.5},
    "encoding": {
     "x": {"field": "med", "type": "quantitative"},
     "y": {"datum": -8.2, "type": "quantitative", "scale": {"domain": [-26.5, 26.5], "nice": false, "zero": false}, "axis": null},
     "y2": {"datum": 8.2}
    }},
   {"transform": [{"filter": "datum.kind == 'o'"}],
    "mark": {"type": "point", "filled": true, "color": "#111111", "size": 16, "opacity": 1, "clip": true},
    "encoding": {
     "x": {"field": "x", "type": "quantitative"},
     "y": {"datum": 0, "type": "quantitative", "scale": {"domain": [-26.5, 26.5], "nice": false, "zero": false}, "axis": null}
    }},
   {"transform": [{"filter": "datum.kind == 'b'"}],
    "mark": {"type": "rule", "strokeDash": [7, 3.6], "strokeWidth": 2},
    "encoding": {
     "x": {"datum": 6, "type": "quantitative"},
     "stroke": {"datum": "AMA Recommended Reading Level", "type": "nominal", "scale": {"domain": ["AMA Recommended Reading Level", "United States Average Reading Level"], "range": ["#505050", "#505050"]},
       "legend": {"title": null, "orient": "none", "legendX": 591, "legendY": 699, "labelExpr": "datum.label == 'AMA Recommended Reading Level' ? ['AMA Recommended', 'Reading Level'] : ['United States', 'Average Reading Level']"}}
    }},
   {"transform": [{"filter": "datum.kind == 'b'"}],
    "mark": {"type": "rule", "strokeDash": [7, 3.6], "strokeWidth": 2},
    "encoding": {
     "x": {"datum": 8, "type": "quantitative"},
     "stroke": {"datum": "United States Average Reading Level", "type": "nominal"}
    }}
  ]
 }
}
],
"config": {
 "font": "Liberation Sans",
 "view": {"stroke": null},
 "axisX": {"ticks": false, "grid": false, "domainColor": "#333333", "domainWidth": 1.2, "labelFontSize": 7, "labelColor": "#555555", "labelPadding": 8, "labelFlush": false, "titleFontSize": 10.5, "titleFontWeight": "bold", "titleColor": "#111111", "titlePadding": 4},
 "legend": {"symbolType": "stroke", "symbolStrokeWidth": 2, "symbolDash": [7, 3], "symbolSize": 180, "labelFontSize": 7.4, "labelColor": "#333333", "labelLimit": 200, "labelBaseline": "bottom", "padding": 3, "rowPadding": 0, "offset": 3, "fillColor": "rgba(255,255,255,0.85)", "strokeColor": "#cccccc", "cornerRadius": 2}
}
}
